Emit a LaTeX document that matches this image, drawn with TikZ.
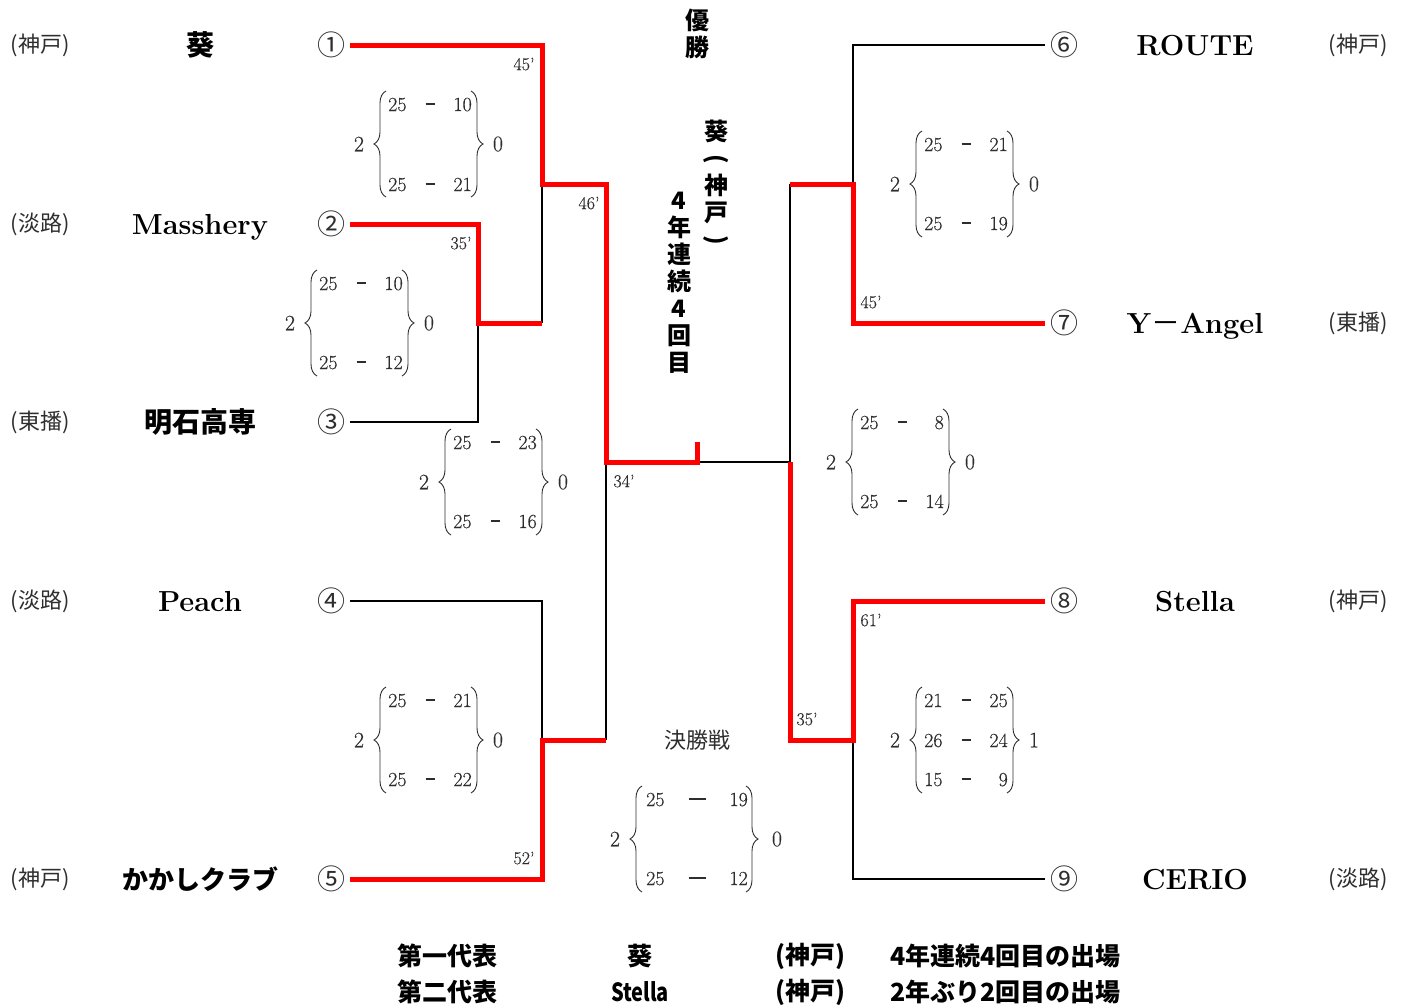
\documentclass[tikz,border=0pt]{standalone}
\usepackage{fontspec}
\newfontfamily\jp{Noto Sans CJK JP}
\newfontfamily\numf{Latin Modern Roman}[FakeBold=0.4]
\usetikzlibrary{decorations.pathreplacing}
\definecolor{winred}{HTML}{FF0000}
\definecolor{txtgray}{HTML}{2E2E2E}
\newcommand\sdash[1]{\raisebox{6.5pt}{\rule{#1}{1.2pt}}}
\newcommand\sblk[6]{% name, L, cy, left, right, half height
  \node[snum] (#1-l) at (#2,#3) {#4};
  \node[snum] (#1-r) at ({#2+139},#3) {#5};
  \draw[brc] ({#2+27},{#3+#6}) -- ({#2+27},{#3-#6});
  \draw[brc] ({#2+112},{#3-#6}) -- ({#2+112},{#3+#6});
}
\newcommand\srow[5]{% name, L, y, a, b
  \node[sc,anchor=west] (#1-a) at ({#2+29},#3) {#4};
  \node[sc] (#1-d) at ({#2+71},#3) {\sdash{9pt}};
  \node[sc,anchor=east] (#1-b) at ({#2+113},#3) {#5};
}
\begin{document}
\begin{tikzpicture}[x=1pt,y=-1pt,
  winl/.style={draw=winred,line width=5pt},
  losel/.style={draw=black,line width=1.8pt},
  team/.style={font=\fontsize{29}{32}\selectfont\bfseries,inner sep=0pt,text height=20.5pt,text depth=0pt},
  teamjp/.style={font=\jp\fontsize{28}{32}\selectfont\bfseries,inner sep=0pt},
  region/.style={font=\jp\fontsize{22}{24}\selectfont,text=txtgray,inner sep=0pt},
  seed/.style={font=\jp\fontsize{28}{30}\selectfont,text=txtgray,inner sep=0pt},
  sc/.style={font=\numf\fontsize{20}{22}\selectfont,text=txtgray,inner sep=0pt,text height=14pt,text depth=0pt},
  snum/.style={font=\numf\fontsize{22}{24}\selectfont,text=txtgray,inner sep=0pt},
  tm/.style={font=\numf\fontsize{18}{20}\selectfont,text=txtgray,inner sep=0pt},
  brc/.style={draw=txtgray,line width=0.9pt,decorate,decoration={brace,amplitude=12pt}},
  vert/.style={font=\jp\fontsize{24}{27}\selectfont\bfseries,align=center,inner sep=0pt},
  foot/.style={font=\jp\fontsize{25}{28}\selectfont\bfseries,inner sep=0pt}]
\useasboundingbox (0,0) rectangle (1408,1007);

% ---- left side teams
\node[region] (r1) at (40,45) {(神戸)};
\node[region] (r2) at (40,224) {(淡路)};
\node[region] (r3) at (40,422) {(東播)};
\node[region] (r4) at (40,601) {(淡路)};
\node[region] (r5) at (40,879) {(神戸)};
\node[teamjp] (t1) at (200,45) {葵};
\node[team] (t2) at (200,224) {Masshery};
\node[teamjp] (t3) at (200,422) {明石高専};
\node[team] (t4) at (200,601) {Peach};
\node[teamjp,font=\jp\fontsize{26}{30}\selectfont\bfseries] (t5) at (200,879) {かかしクラブ};
\node[seed] (n1) at (331,45) {①};
\node[seed] (n2) at (331,224) {②};
\node[seed] (n3) at (331,422) {③};
\node[seed] (n4) at (331,601) {④};
\node[seed] (n5) at (331,879) {⑤};

% ---- right side teams
\node[seed] (n6) at (1064,45) {⑥};
\node[seed] (n7) at (1064,323) {⑦};
\node[seed] (n8) at (1064,601) {⑧};
\node[seed] (n9) at (1064,879) {⑨};
\node[team] (t6) at (1195,45) {ROUTE};
\node[team] (t7) at (1195,323) {Y{\jp\mdseries －}Angel};
\node[team] (t8) at (1195,601) {Stella};
\node[team] (t9) at (1195,879) {CERIO};
\node[region] (r6) at (1358,45) {(神戸)};
\node[region] (r7) at (1358,323) {(東播)};
\node[region] (r8) at (1358,601) {(神戸)};
\node[region] (r9) at (1358,879) {(淡路)};

% ---- line end points and junctions
\coordinate (p1) at (350,45);
\coordinate (p2) at (350,224);
\coordinate (p3) at (350,422);
\coordinate (p4) at (350,601);
\coordinate (p5) at (350,879);
\coordinate (p6) at (1045,45);
\coordinate (p7) at (1045,323);
\coordinate (p8) at (1045,601);
\coordinate (p9) at (1045,879);
\coordinate (m23) at (478,323);
\coordinate (m12) at (542,184);
\coordinate (m45) at (542,740);
\coordinate (sl) at (606,462);
\coordinate (fin) at (697,462);
\coordinate (ftop) at (697,442);
\coordinate (sr) at (790,462);
\coordinate (m67) at (853,184);
\coordinate (m89) at (853,740);

% ---- losing (black) lines
\draw[losel] (p3) -| (m23);
\draw[losel] (m12) -- (542,323);
\draw[losel] (p4) -| (m45);
\draw[losel] (sl) -- (606,740);
\draw[losel] (fin) -- (sr);
\draw[losel] (p6) -| (m67);
\draw[losel] (790,184) -- (sr);
\draw[losel] (m89) |- (p9);

% ---- winning (red) lines
\draw[winl] (p1) -| (m12) -- (606,184) -- (sl) -- (fin) -- (ftop);
\draw[winl] (p2) -| (m23) -- (542,323);
\draw[winl] (p5) -| (m45) -- (606,740);
\draw[winl] (p7) -| (m67) -- (790,184);
\draw[winl] (sr) -- (790,740) -- (m89) |- (p8);

% ---- times
\node[tm] (tm1) at (524,64) {45’};
\node[tm] (tm2) at (589,203) {46’};
\node[tm] (tm3) at (461,243) {35’};
\node[tm] (tm4) at (624,481) {34’};
\node[tm] (tm5) at (524,858) {52’};
\node[tm] (tm6) at (871,302) {45’};
\node[tm] (tm7) at (871,620) {61’};
\node[tm] (tm8) at (807,719) {35’};

% ---- scores
\sblk{s1}{359}{144}{2}{0}{53}
\srow{s1a}{359}{104}{25}{10}
\srow{s1b}{359}{184}{25}{21}
\sblk{s2}{290}{323}{2}{0}{53}
\srow{s2a}{290}{283}{25}{10}
\srow{s2b}{290}{362}{25}{12}
\sblk{s3}{424}{482}{2}{0}{53}
\srow{s3a}{424}{442}{25}{23}
\srow{s3b}{424}{521}{25}{16}
\sblk{s4}{359}{740}{2}{0}{53}
\srow{s4a}{359}{700}{25}{21}
\srow{s4b}{359}{779}{25}{22}
\sblk{s5}{895}{184}{2}{0}{53}
\srow{s5a}{895}{144}{25}{21}
\srow{s5b}{895}{223}{25}{19}
\sblk{s6}{831}{462}{2}{0}{53}
\srow{s6a}{831}{422}{25}{8}
\srow{s6b}{831}{501}{25}{14}
\sblk{s7}{895}{740}{2}{1}{53}
\srow{s7a}{895}{700}{21}{25}
\srow{s7b}{895}{740}{26}{24}
\srow{s7c}{895}{779}{15}{9}

% ---- final
\node[font=\jp\fontsize{22}{24}\selectfont,text=txtgray,inner sep=0pt] (final) at (697,740) {決勝戦};
\node[snum] (f-l) at (615,839) {2};
\node[snum] (f-r) at (777,839) {0};
\draw[brc] (642,892) -- (642,786);
\draw[brc] (746,786) -- (746,892);
\node[sc,anchor=west] (fa-a) at (646,799) {25};
\node[sc] (fa-d) at (697,799) {\sdash{17pt}};
\node[sc,anchor=east] (fa-b) at (748,799) {19};
\node[sc,anchor=west] (fb-a) at (646,878) {25};
\node[sc] (fb-d) at (697,878) {\sdash{17pt}};
\node[sc,anchor=east] (fb-b) at (748,878) {12};

% ---- champion vertical texts
\node[vert] (champ) at (697,34) {優\\勝};
\node[vert] (champteam) at (716,184) {葵\\\rotatebox[origin=c]{-90}{(}\\神\\戸\\\rotatebox[origin=c]{-90}{)}};
\node[vert] (streak) at (679,283) {4\\年\\連\\続\\4\\回\\目};

% ---- footer
\node[foot] (fa1) at (447,956) {第一代表};
\node[foot] (fa2) at (640,956) {葵};
\node[foot] (fa3) at (810,956) {(神戸)};
\node[foot,anchor=west] (fa4) at (890,956) {4年連続4回目の出場};
\node[foot] (fb1) at (447,992) {第二代表};
\node[foot] (fb2) at (640,992) {\scalebox{0.8}[1]{Stella}};
\node[foot] (fb3) at (810,992) {(神戸)};
\node[foot,anchor=west] (fb4) at (890,992) {2年ぶり2回目の出場};
\end{tikzpicture}
\end{document}
